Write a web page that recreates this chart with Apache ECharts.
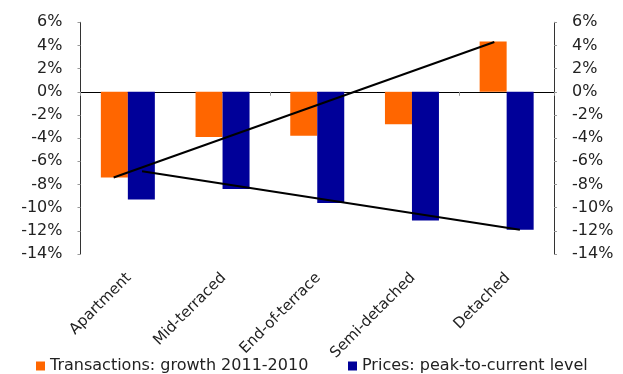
<!DOCTYPE html>
<html>
<head>
<meta charset="utf-8">
<script src="https://cdn.jsdelivr.net/npm/echarts@6/dist/echarts.min.js"></script>
<style>
  html, body { margin: 0; padding: 0; background: #fff; }
  #chart { width: 623px; height: 374px; }
</style>
</head>
<body>
<div id="chart"></div>
<script>
// Dwelling types on the category axis
const categories = ['Apartment', 'Mid-terraced', 'End-of-terrace', 'Semi-detached', 'Detached'];

// Series values, in percent
const transactionsName = 'Transactions: growth 2011-2010';
const transactions = [-7.4, -3.9, -3.8, -2.8, 4.35];
const pricesName = 'Prices: peak-to-current level';
const prices = [-9.3, -8.4, -9.6, -11.1, -11.9];

// Two straight guide lines, as [category position, percent] end points
const guideUpper = [[0.35, -7.4], [4.37, 4.3]];
const guideLower = [[0.65, -6.85], [4.64, -11.9]];

// Value axis range and step
const yMin = -14, yMax = 6, yStep = 2;

const FONT = 'DejaVu Sans';
const TEXT = '#222';

const chart = echarts.init(document.getElementById('chart'), null, { renderer: 'canvas' });

const yAxisCommon = {
  type: 'value',
  min: yMin, max: yMax, interval: yStep,
  splitLine: { show: false },
  axisLine: { show: true, lineStyle: { color: '#333', width: 1 } },
  axisTick: { show: true, length: 3, lineStyle: { color: '#999' } },
  axisLabel: { formatter: '{value}%', color: TEXT, fontFamily: FONT, fontSize: 16, margin: 18 }
};

const legendCommon = {
  top: 353,
  icon: 'rect', itemWidth: 9, itemHeight: 9, itemGap: 6,
  textStyle: { color: TEXT, fontFamily: FONT, fontSize: 16 }
};

chart.setOption({
  animation: false,
  backgroundColor: '#fff',
  grid: { left: 80.5, right: 69, top: 22.3, bottom: 120 },
  legend: [
    Object.assign({ data: [transactionsName], left: 31 }, legendCommon),
    Object.assign({ data: [pricesName], left: 343 }, legendCommon)
  ],
  xAxis: [
    {
      // labels along the bottom edge
      type: 'category', data: categories, position: 'bottom',
      axisLine: { show: false, onZero: false },
      axisTick: { show: false },
      axisLabel: {
        rotate: 45, margin: 12, interval: 0, verticalAlign: 'top', align: 'right',
        padding: [0, 6, 0, 0],
        color: TEXT, fontFamily: FONT, fontSize: 15
      }
    },
    {
      // zero line with category ticks
      type: 'category', data: categories, position: 'bottom',
      axisLine: { show: true, onZero: true, lineStyle: { color: '#000', width: 1 } },
      axisTick: { show: true, length: 4, lineStyle: { color: '#999' } },
      axisLabel: { show: false }
    },
    {
      // continuous scale over the categories for the guide lines
      type: 'value', min: 0, max: 5, show: false
    }
  ],
  yAxis: [
    Object.assign({ position: 'left' }, yAxisCommon),
    Object.assign({ position: 'right' }, yAxisCommon)
  ],
  series: [
    {
      name: transactionsName, type: 'bar', data: transactions,
      xAxisIndex: 0, yAxisIndex: 0,
      barWidth: 27, barGap: '0%',
      itemStyle: { color: '#FF6600' }
    },
    {
      name: pricesName, type: 'bar', data: prices,
      xAxisIndex: 0, yAxisIndex: 0,
      barWidth: 27, barGap: '0%',
      itemStyle: { color: '#000099' }
    },
    {
      type: 'line', data: guideUpper, xAxisIndex: 2, yAxisIndex: 0,
      symbol: 'none', z: 5,
      lineStyle: { color: '#000', width: 2 }
    },
    {
      type: 'line', data: guideLower, xAxisIndex: 2, yAxisIndex: 0,
      symbol: 'none', z: 5,
      lineStyle: { color: '#000', width: 2 }
    }
  ]
});
</script>
</body>
</html>
